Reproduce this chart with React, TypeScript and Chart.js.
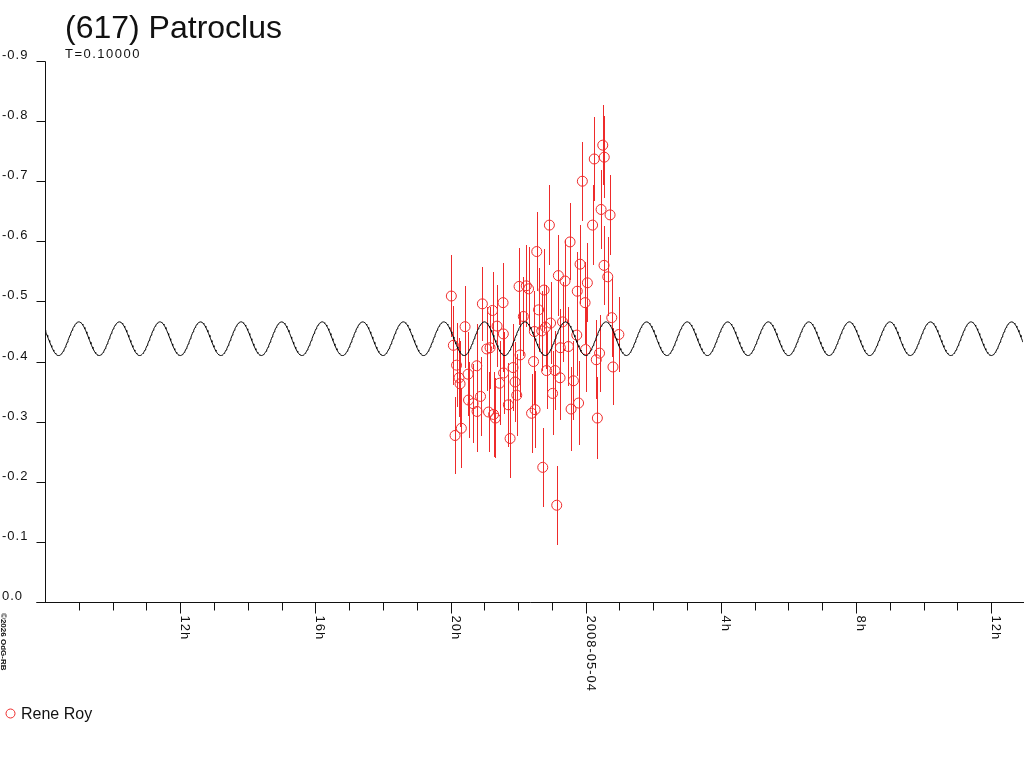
import React, { useEffect, useRef } from 'react';
import { Chart, registerables } from 'chart.js';

Chart.register(...registerables);

// ---- texts ----
const TITLE = '(617) Patroclus';
const SUBTITLE = 'T=0.10000';
const SERIES_NAME = 'Rene Roy';
const DATE_LABEL = '2008-05-04';
const CREDIT = '\u00A92026 OdG-RB';

// ---- axes (x in hours since 2008-05-03 00:00 UT, y in relative magnitude) ----
const X_MIN_H = 8.0;
const X_MAX_H = 36.94;
const X_MAJOR_EVERY_H = 4;
const Y_MIN = -0.9;
const Y_MAX = 0.0;
const Y_STEP = 0.1;

// ---- observations (Rene Roy) ----
const OBS_TIME_H = [
  20.024, 20.084, 20.134, 20.178, 20.252, 20.282, 20.320, 20.430, 20.519, 20.533,
  20.667, 20.776, 20.785, 20.888, 20.942, 21.072, 21.125, 21.170, 21.244, 21.273,
  21.327, 21.377, 21.451, 21.554, 21.563, 21.570, 21.711, 21.762, 21.850, 21.910,
  21.960, 22.028, 22.058, 22.155, 22.241, 22.309, 22.398, 22.457, 22.501, 22.481,
  22.552, 22.605, 22.700, 22.729, 22.768, 22.812, 22.842, 22.925, 22.960, 23.019,
  23.093, 23.143, 23.191, 23.250, 23.241, 23.315, 23.389, 23.487, 23.537, 23.567,
  23.635, 23.736, 23.750, 23.789, 23.833, 23.901, 23.981, 23.996, 24.049, 24.203,
  24.253, 24.313, 24.345, 24.410, 24.455, 24.543, 24.505, 24.549, 24.653, 24.721,
  24.771, 24.807, 24.981,
];
const OBS_MAG = [
  -0.509, -0.427, -0.277, -0.394, -0.373, -0.363, -0.289, -0.458, -0.379, -0.336,
  -0.330, -0.393, -0.317, -0.342, -0.496, -0.421, -0.316, -0.423, -0.485, -0.312,
  -0.306, -0.459, -0.364, -0.498, -0.446, -0.381, -0.328, -0.272, -0.390, -0.366,
  -0.344, -0.525, -0.411, -0.475, -0.526, -0.521, -0.314, -0.400, -0.320, -0.450,
  -0.583, -0.486, -0.451, -0.224, -0.519, -0.457, -0.385, -0.627, -0.464, -0.347,
  -0.385, -0.161, -0.543, -0.423, -0.373, -0.466, -0.534, -0.425, -0.599, -0.321,
  -0.368, -0.444, -0.517, -0.331, -0.562, -0.700, -0.498, -0.420, -0.531, -0.627,
  -0.737, -0.403, -0.306, -0.414, -0.653, -0.560, -0.760, -0.740, -0.541, -0.644,
  -0.473, -0.391, -0.445,
];
const OBS_ERR = [
  0.068, 0.066, 0.064, 0.070, 0.066, 0.072, 0.066, 0.068, 0.070, 0.064,
  0.066, 0.070, 0.068, 0.066, 0.062, 0.070, 0.066, 0.068, 0.064, 0.070,
  0.066, 0.068, 0.070, 0.066, 0.064, 0.068, 0.070, 0.066, 0.072, 0.066,
  0.068, 0.064, 0.070, 0.066, 0.068, 0.070, 0.066, 0.072, 0.064, 0.068,
  0.066, 0.070, 0.066, 0.066, 0.068, 0.070, 0.064, 0.066, 0.068, 0.070,
  0.066, 0.066, 0.068, 0.064, 0.070, 0.066, 0.068, 0.066, 0.064, 0.070,
  0.066, 0.068, 0.066, 0.070, 0.066, 0.066, 0.068, 0.070, 0.066, 0.066,
  0.070, 0.066, 0.068, 0.064, 0.066, 0.066, 0.066, 0.068, 0.066, 0.066,
  0.066, 0.064, 0.063,
];

// ---- fitted Fourier model (T = 0.1 d, two maxima per rotation) ----
const FIT_PERIOD_H = 1.2;
const FIT_MEAN = -0.438;
const FIT_AMPLITUDE = 0.028;
const FIT_EPOCH_H = 9.0; // time of a brightness maximum
const FIT_SAMPLE_H = 0.02;

const RED = '#ee2b2b';
const INK = '#111111';
const SMALL_FONT = '13px "Liberation Sans", Arial, sans-serif';

function buildFit() {
  const pts: { x: number; y: number }[] = [];
  const n = Math.round((X_MAX_H - X_MIN_H) / FIT_SAMPLE_H);
  for (let i = 0; i <= n; i++) {
    const t = X_MIN_H + i * FIT_SAMPLE_H;
    const ph = (2 * Math.PI * (t - FIT_EPOCH_H)) / FIT_PERIOD_H;
    pts.push({ x: t, y: FIT_MEAN - FIT_AMPLITUDE * Math.cos(ph) });
  }
  return pts;
}

function setSpacing(ctx: CanvasRenderingContext2D, v: string) {
  (ctx as any).letterSpacing = v;
}

const errorBarPlugin = {
  id: 'errorBars',
  beforeDatasetsDraw(chart: any) {
    const { ctx, chartArea } = chart;
    const xs = chart.scales.x;
    const ys = chart.scales.y;
    ctx.save();
    ctx.beginPath();
    ctx.rect(chartArea.left, chartArea.top, chartArea.right - chartArea.left, chartArea.bottom - chartArea.top);
    ctx.clip();
    ctx.strokeStyle = RED;
    ctx.lineWidth = 1;
    for (let i = 0; i < OBS_TIME_H.length; i++) {
      const px = Math.round(xs.getPixelForValue(OBS_TIME_H[i])) + 0.5;
      const y1 = Math.round(ys.getPixelForValue(OBS_MAG[i] - OBS_ERR[i]));
      const y2 = Math.round(ys.getPixelForValue(OBS_MAG[i] + OBS_ERR[i]));
      ctx.beginPath();
      ctx.moveTo(px, y1);
      ctx.lineTo(px, y2);
      ctx.stroke();
    }
    ctx.restore();
  },
};

const decorPlugin = {
  id: 'decor',
  afterDraw(chart: any) {
    const { ctx, chartArea } = chart;
    const xs = chart.scales.x;
    const ys = chart.scales.y;
    const left = Math.round(chartArea.left) + 0.5;
    const bottom = Math.round(chartArea.bottom) + 0.5;
    ctx.save();
    ctx.strokeStyle = INK;
    ctx.fillStyle = INK;
    ctx.lineWidth = 1;

    // axis lines
    const yTop = Math.round(ys.getPixelForValue(Y_MIN)) + 0.5;
    ctx.beginPath();
    ctx.moveTo(left, yTop);
    ctx.lineTo(left, bottom);
    ctx.moveTo(left - 9, bottom);
    ctx.lineTo(chart.width, bottom);
    ctx.stroke();

    // y ticks & labels
    ctx.font = SMALL_FONT;
    setSpacing(ctx, '1px');
    ctx.textAlign = 'left';
    ctx.textBaseline = 'alphabetic';
    ys.ticks.forEach((t: any) => {
      const py = Math.round(ys.getPixelForValue(t.value)) + 0.5;
      ctx.beginPath();
      ctx.moveTo(left - 9, py);
      ctx.lineTo(left, py);
      ctx.stroke();
      const v = Math.abs(t.value) < 1e-9 ? 0 : t.value;
      ctx.fillText(v.toFixed(1), 2, py - 3);
    });

    // x ticks & rotated labels
    xs.ticks.forEach((t: any) => {
      const v = t.value;
      if (Math.abs(v - Math.round(v)) > 1e-6) return;
      if (v <= X_MIN_H + 1e-6) return;
      const px = Math.round(xs.getPixelForValue(v)) + 0.5;
      const major = Math.round(v) % X_MAJOR_EVERY_H === 0;
      ctx.beginPath();
      ctx.moveTo(px, bottom);
      ctx.lineTo(px, bottom + (major ? 11 : 8));
      ctx.stroke();
      if (major) {
        const h = Math.round(v) % 24;
        const label = h === 0 ? DATE_LABEL : h + 'h';
        ctx.save();
        ctx.translate(px + 0.5, bottom + 13);
        ctx.rotate(Math.PI / 2);
        ctx.fillText(label, 0, 0);
        ctx.restore();
      }
    });

    // title & subtitle
    setSpacing(ctx, '0px');
    ctx.font = '32px "Liberation Sans", Arial, sans-serif';
    ctx.fillText(TITLE, 65, 38);
    ctx.font = SMALL_FONT;
    setSpacing(ctx, '1.5px');
    ctx.fillText(SUBTITLE, 65, 58);

    // credit (vertical)
    setSpacing(ctx, '0px');
    ctx.save();
    ctx.font = 'bold 8px "Liberation Sans", Arial, sans-serif';
    ctx.translate(1, 613);
    ctx.rotate(Math.PI / 2);
    ctx.fillText(CREDIT, 0, 0);
    ctx.restore();

    // legend
    ctx.strokeStyle = RED;
    ctx.beginPath();
    ctx.arc(10.5, 713.5, 4.5, 0, Math.PI * 2);
    ctx.stroke();
    ctx.fillStyle = INK;
    ctx.font = '16px "Liberation Sans", Arial, sans-serif';
    ctx.fillText(SERIES_NAME, 21, 719);
    ctx.restore();
  },
};

export default function App() {
  const canvasRef = useRef<HTMLCanvasElement | null>(null);

  useEffect(() => {
    const canvas = canvasRef.current;
    if (!canvas) return;
    const obs = OBS_TIME_H.map((t, i) => ({ x: t, y: OBS_MAG[i] }));
    const chart = new Chart(canvas, {
      type: 'scatter',
      data: {
        datasets: [
          {
            label: 'fit',
            data: buildFit(),
            showLine: true,
            borderColor: '#000000',
            borderWidth: 1,
            pointRadius: 0,
            pointHoverRadius: 0,
            tension: 0,
            order: 0,
          },
          {
            label: SERIES_NAME,
            data: obs,
            showLine: false,
            pointStyle: 'circle',
            pointRadius: 5,
            pointHoverRadius: 5,
            borderColor: RED,
            backgroundColor: 'rgba(0,0,0,0)',
            borderWidth: 1,
            order: 1,
          },
        ],
      },
      options: {
        animation: false,
        responsive: false,
        devicePixelRatio: 1,
        events: [],
        layout: { autoPadding: false, padding: { top: 61, right: 1, left: 0, bottom: 0 } },
        plugins: {
          legend: { display: false },
          title: { display: false },
          tooltip: { enabled: false },
        },
        scales: {
          x: {
            type: 'linear',
            position: 'bottom',
            min: X_MIN_H,
            max: X_MAX_H,
            ticks: { display: false, stepSize: 1, includeBounds: false },
            grid: { display: false },
            border: { display: false },
            afterFit: (s: any) => {
              s.height = 166;
            },
          },
          y: {
            type: 'linear',
            position: 'left',
            min: Y_MIN,
            max: Y_MAX,
            reverse: true,
            ticks: { display: false, stepSize: Y_STEP },
            grid: { display: false },
            border: { display: false },
            afterFit: (s: any) => {
              s.width = 45;
            },
          },
        },
      },
      plugins: [errorBarPlugin, decorPlugin],
    });
    return () => chart.destroy();
  }, []);

  return (
    <div style={{ position: 'absolute', left: 0, top: 0, width: 1024, height: 768, background: '#ffffff' }}>
      <canvas ref={canvasRef} width={1024} height={768} style={{ width: 1024, height: 768, display: 'block' }} />
    </div>
  );
}
